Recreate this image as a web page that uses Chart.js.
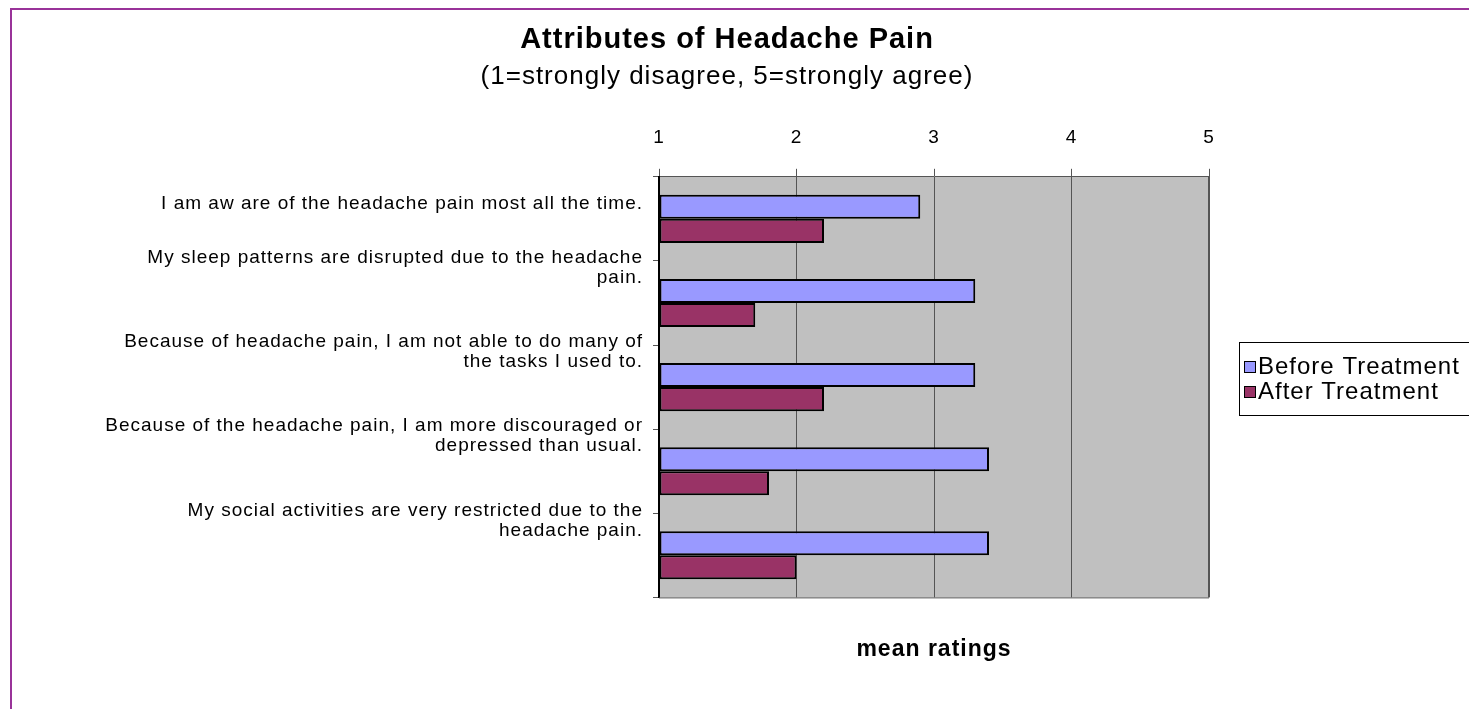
<!DOCTYPE html>
<html>
<head>
<meta charset="utf-8">
<title>Attributes of Headache Pain</title>
<script src="https://cdn.jsdelivr.net/npm/chart.js@4.4.1/dist/chart.umd.min.js"></script>
<style>
    html, body { margin: 0; padding: 0; background: #fff; overflow: hidden; }
    #wrap { position: relative; width: 1469px; height: 709px; }
    #frame {
        position: absolute; left: 10px; top: 8px;
        width: 1500px; height: 740px;
        border: 2px solid #993399; box-sizing: border-box;
        pointer-events: none;
    }
</style>
</head>
<body>
<div id="wrap">
    <canvas id="chart" width="1469" height="709"></canvas>
    <div id="frame"></div>
</div>
<script>
    // 数据
    const categories = [
        ['', '', 'I am aw are of the headache pain most all the time.'],
        ['My sleep patterns are disrupted due to the headache', 'pain.'],
        ['Because of headache pain, I am not able to do many of', 'the tasks I used to.'],
        ['Because of the headache pain, I am more discouraged or', 'depressed than usual.'],
        ['My social activities are very restricted due to the', 'headache pain.']
    ];
    const beforeValues = [2.9, 3.3, 3.3, 3.4, 3.4];
    const afterValues = [2.2, 1.7, 2.2, 1.8, 2.0];
    const seriesNames = ['Before Treatment', 'After Treatment'];
    const seriesColors = ['#9999FF', '#993366'];
    const tickValues = [1, 2, 3, 4, 5];

    const FONT = '"Liberation Sans", Arial, sans-serif';
    Chart.defaults.font.family = FONT;
    Chart.defaults.color = '#000';

    // 灰色绘图区 + 字间距
    const plotBackground = {
        id: 'plotBackground',
        beforeDraw(chart) {
            const { ctx, chartArea: a } = chart;
            ctx.letterSpacing = '1px';
            ctx.save();
            ctx.fillStyle = '#C0C0C0';
            ctx.fillRect(a.left, a.top, a.right - a.left, a.bottom - a.top);
            ctx.restore();
        },
        afterDraw(chart) {
            const { ctx, chartArea: a } = chart;
            ctx.save();
            ctx.strokeStyle = '#555';
            ctx.lineWidth = 1;
            ctx.beginPath();
            ctx.moveTo(a.left, a.bottom + 0.5);
            ctx.lineTo(a.right, a.bottom + 0.5);
            ctx.moveTo(a.right - 0.5, a.top);
            ctx.lineTo(a.right - 0.5, a.bottom);
            ctx.stroke();
            ctx.restore();
        }
    };

    // 图例（右侧方框）
    const boxLegend = {
        id: 'boxLegend',
        afterDraw(chart) {
            const { ctx } = chart;
            const x = 1239, y = 342, w = 260, h = 73;
            ctx.save();
            ctx.letterSpacing = '1px';
            ctx.fillStyle = '#fff';
            ctx.fillRect(x, y, w, h);
            ctx.strokeStyle = '#000';
            ctx.lineWidth = 1;
            ctx.strokeRect(x + 0.5, y + 0.5, w, h);
            ctx.font = '24px ' + FONT;
            ctx.textBaseline = 'middle';
            chart.data.datasets.forEach((ds, i) => {
                const cy = y + 24 + i * 25;
                ctx.fillStyle = ds.backgroundColor;
                ctx.fillRect(x + 5, cy - 5, 12, 12);
                ctx.strokeRect(x + 5.5, cy - 4.5, 11, 11);
                ctx.fillStyle = '#000';
                ctx.fillText(ds.label, x + 19, cy + 1);
            });
            ctx.restore();
        }
    };

    new Chart(document.getElementById('chart'), {
        type: 'bar',
        data: {
            labels: categories,
            datasets: [
                {
                    label: seriesNames[0],
                    data: beforeValues,
                    backgroundColor: seriesColors[0],
                    borderColor: '#000',
                    borderWidth: 2,
                    borderSkipped: false,
                    base: 1
                },
                {
                    label: seriesNames[1],
                    data: afterValues,
                    backgroundColor: seriesColors[1],
                    borderColor: '#000',
                    borderWidth: 2,
                    borderSkipped: false,
                    base: 1
                }
            ]
        },
        options: {
            indexAxis: 'y',
            responsive: false,
            animation: false,
            barPercentage: 1,
            categoryPercentage: 1 / 1.75,
            layout: {
                padding: { left: 0, right: 15, top: 0, bottom: 46 }
            },
            plugins: {
                legend: { display: false },
                tooltip: { enabled: false },
                title: {
                    display: true,
                    text: 'Attributes of Headache Pain',
                    font: { size: 29, weight: 'bold', lineHeight: 1.2 },
                    color: '#000',
                    padding: { top: 23, bottom: 0 }
                },
                subtitle: {
                    display: true,
                    text: '(1=strongly disagree, 5=strongly agree)',
                    font: { size: 26, lineHeight: 1.2 },
                    color: '#000',
                    padding: { top: 3, bottom: 14 }
                }
            },
            scales: {
                x: {
                    position: 'top',
                    min: 1,
                    max: 5,
                    afterBuildTicks(scale) {
                        scale.ticks = tickValues.map(v => ({ value: v }));
                    },
                    ticks: {
                        font: { size: 19, lineHeight: 1.2 },
                        color: '#000',
                        padding: 20
                    },
                    grid: {
                        color: '#555',
                        tickColor: '#555',
                        tickLength: 8
                    },
                    border: { display: true, color: '#555' }
                },
                x2: {
                    type: 'linear',
                    position: 'bottom',
                    min: 1,
                    max: 5,
                    ticks: { display: false },
                    grid: { display: false, drawTicks: false },
                    border: { display: false },
                    title: {
                        display: true,
                        text: 'mean ratings',
                        font: { size: 23, weight: 'bold', lineHeight: 1.2 },
                        color: '#000',
                        padding: { top: 38, bottom: 0 }
                    }
                },
                y: {
                    position: 'left',
                    afterFit(scale) {
                        scale.width = 659;
                    },
                    ticks: {
                        font: { size: 19, lineHeight: '20px' },
                        color: '#000',
                        padding: 10,
                        labelOffset: -35
                    },
                    grid: {
                        offset: true,
                        drawOnChartArea: false,
                        color: '#555',
                        tickLength: 6
                    },
                    border: { display: true, color: '#000', width: 2 }
                },
                // 右侧留白给图例
                yRight: {
                    type: 'category',
                    position: 'right',
                    afterFit(scale) {
                        scale.width = 245;
                    },
                    ticks: { display: false },
                    grid: { display: false, drawTicks: false },
                    border: { display: false }
                }
            }
        },
        plugins: [plotBackground, boxLegend]
    });
</script>
</body>
</html>
